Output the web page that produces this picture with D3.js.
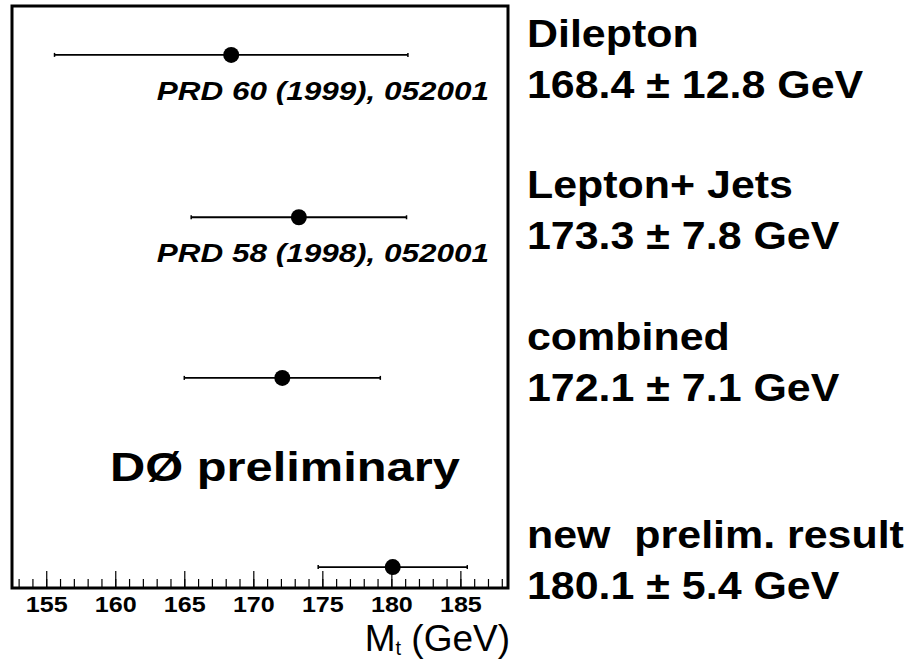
<!DOCTYPE html>
<html>
<head>
<meta charset="utf-8">
<script src="https://cdn.jsdelivr.net/npm/d3@7"></script>
<style>
  body { margin: 0; background: #fff; }
  svg { display: block; font-family: "Liberation Sans", Arial, Helvetica, sans-serif; }
</style>
</head>
<body>
<div id="viz"></div>
<script>
// measurements, top to bottom
const names = ['Dilepton', 'Lepton+ Jets', 'combined', 'new  prelim. result'];
const masses = [168.4, 173.3, 172.1, 180.1];
const errors = [12.8, 7.8, 7.1, 5.4];
const refs = ['PRD 60 (1999), 052001', 'PRD 58 (1998), 052001', '', ''];
// vertical slot of each measurement (0 = bottom of frame, 10 = top)
const slots = [9.16, 6.37, 3.61, 0.36];
const majorTicks = [155, 160, 165, 170, 175, 180, 185];

const W = 908, H = 663;
const frame = {left: 12, top: 6, right: 508, bottom: 588};
const labelY = [47, 198, 350, 548];   // baseline of the name line on the right
const stretch = 1.13;                 // the original font runs wide

const svg = d3.select('#viz')
    .append('svg')
    .attr('width', W)
    .attr('height', H);

const x = d3.scaleLinear()
    .domain([152.52, 188.45])
    .range([frame.left, frame.right]);

const y = d3.scaleLinear()
    .domain([0, 10])
    .range([frame.bottom, frame.top]);

// minor ticks
svg.append('g')
    .attr('transform', `translate(0,${frame.bottom})`)
    .call(d3.axisBottom(x).tickValues(d3.range(153, 189, 1)).tickSize(-9).tickFormat(''))
    .call(g => g.select('.domain').remove())
    .selectAll('line').attr('stroke', '#000').attr('stroke-width', 1.2);

// major ticks + labels
svg.append('g')
    .attr('transform', `translate(0,${frame.bottom})`)
    .call(d3.axisBottom(x).tickValues(majorTicks).tickSize(-17).tickPadding(8).tickFormat(d3.format('d')))
    .call(g => g.select('.domain').remove())
    .call(g => g.selectAll('line').attr('stroke', '#000').attr('stroke-width', 1.2))
    .selectAll('text')
    .attr('dy', '0.71em')
    .attr('transform', 'scale(1.14,1)')
    .style('font-size', '22px')
    .style('font-weight', 'bold')
    .style('font-family', '"Liberation Sans", Arial, sans-serif')
    .attr('fill', '#000');

// frame
svg.append('rect')
    .attr('x', frame.left)
    .attr('y', frame.top)
    .attr('width', frame.right - frame.left)
    .attr('height', frame.bottom - frame.top)
    .attr('fill', 'none')
    .attr('stroke', '#000')
    .attr('stroke-width', 3);

const rows = names.map((n, i) => ({name: n, m: masses[i], e: errors[i], ref: refs[i], slot: slots[i], ly: labelY[i]}));

const pts = svg.selectAll('.pt')
    .data(rows)
    .join('g')
    .attr('class', 'pt');

pts.append('line')
    .attr('x1', d => x(d.m - d.e))
    .attr('x2', d => x(d.m + d.e))
    .attr('y1', d => y(d.slot))
    .attr('y2', d => y(d.slot))
    .attr('stroke', '#000')
    .attr('stroke-width', 1.8);

pts.selectAll('.cap')
    .data(d => [[d.m - d.e, d.slot], [d.m + d.e, d.slot]])
    .join('line')
    .attr('class', 'cap')
    .attr('x1', d => x(d[0]))
    .attr('x2', d => x(d[0]))
    .attr('y1', d => y(d[1]) - 2)
    .attr('y2', d => y(d[1]) + 2)
    .attr('stroke', '#000')
    .attr('stroke-width', 1.5);

pts.append('circle')
    .attr('cx', d => x(d.m))
    .attr('cy', d => y(d.slot))
    .attr('r', 8)
    .attr('fill', '#000');

pts.filter(d => d.ref)
    .append('text')
    .attr('transform', d => `translate(489,${y(d.slot) + 45}) scale(1.21,1)`)
    .attr('text-anchor', 'end')
    .style('font-size', '26px')
    .style('font-weight', 'bold')
    .style('font-style', 'italic')
    .text(d => d.ref);

// labels on the right
const lab = svg.selectAll('.lab')
    .data(rows)
    .join('g')
    .attr('class', 'lab')
    .attr('transform', d => `translate(527,${d.ly}) scale(${stretch},1)`)
    .style('font-size', '38px')
    .style('font-weight', 'bold');

lab.append('text')
    .attr('xml:space', 'preserve')
    .text(d => d.name);
lab.append('text')
    .attr('y', 51)
    .text(d => `${d.m.toFixed(1)} \u00b1 ${d.e.toFixed(1)} GeV`);

svg.append('text')
    .attr('transform', 'translate(110,481) scale(1.22,1)')
    .style('font-size', '40px')
    .style('font-weight', 'bold')
    .text('D\u00d8 preliminary');

// axis title
const t = svg.append('text')
    .attr('x', 510)
    .attr('y', 651)
    .attr('text-anchor', 'end')
    .style('font-size', '37px');
t.append('tspan').text('M');
t.append('tspan').attr('dy', 4).style('font-size', '20px').text('t');
t.append('tspan').attr('dy', -4).text(' (GeV)');
</script>
</body>
</html>
